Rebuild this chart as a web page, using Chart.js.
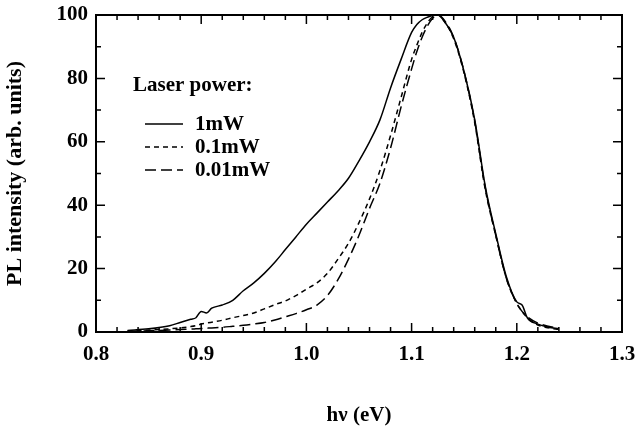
<!DOCTYPE html>
<html>
<head>
<meta charset="utf-8">
<script src="https://cdn.jsdelivr.net/npm/chart.js@4/dist/chart.umd.min.js"></script>
<style>
  html, body { margin: 0; padding: 0; background: #fff; }
  #wrap { width: 636px; height: 429px; }
</style>
</head>
<body>
<div id="wrap"><canvas id="plChart" width="636" height="429"></canvas></div>
<script>
// photon energy (eV), shared by the three spectra
const energy = [0.83, 0.85, 0.87, 0.88, 0.89, 0.895, 0.90, 0.905, 0.91, 0.92,
                0.93, 0.94, 0.95, 0.96, 0.97, 0.98, 0.99, 1.00, 1.01, 1.02,
                1.03, 1.04, 1.05, 1.06, 1.07, 1.08, 1.09, 1.10, 1.105, 1.11,
                1.115, 1.12, 1.125, 1.13, 1.14, 1.15, 1.16, 1.17, 1.18, 1.19,
                1.20, 1.205, 1.21, 1.22, 1.23, 1.24];

// PL intensity (arb. units) for each laser power
const pl1mW = [0.5, 1.0, 2.0, 3.0, 4.0, 4.5, 6.5, 6.0, 7.5, 8.5,
               10.0, 13.0, 15.5, 18.5, 22.0, 26.0, 30.0, 34.0, 37.5, 41.0,
               44.5, 48.5, 54.0, 60.0, 67.0, 77.0, 86.0, 94.5, 97.0, 98.5,
               99.3, 99.8, 100, 98.5, 93.0, 82.0, 67.0, 46.0, 31.0, 17.5,
               9.5, 8.5, 4.5, 2.5, 1.5, 1.0];
const pl01mW = [0.3, 0.6, 1.0, 1.3, 1.7, 2.0, 2.5, 2.8, 3.1, 3.7,
                4.5, 5.2, 6.0, 7.3, 8.6, 9.8, 11.5, 13.5, 15.5, 18.5,
                23.0, 28.0, 34.5, 42.0, 51.0, 62.0, 74.0, 86.0, 90.5, 94.5,
                97.5, 99.5, 100, 98.5, 92.5, 81.5, 66.0, 45.0, 30.5, 17.0,
                9.0, 6.5, 4.5, 2.2, 1.3, 0.8];
const pl001mW = [0.2, 0.4, 0.6, 0.8, 0.9, 1.0, 1.1, 1.2, 1.3, 1.5,
                 1.8, 2.1, 2.5, 3.0, 3.8, 4.8, 5.8, 7.0, 8.5, 11.5,
                 16.5, 23.0, 30.5, 39.0, 47.0, 58.0, 71.0, 83.0, 88.5, 93.0,
                 96.5, 99.0, 100, 98.8, 93.0, 82.0, 66.5, 45.5, 30.5, 17.0,
                 9.0, 6.5, 4.8, 2.8, 1.8, 1.2];

const seriesLabels = ['1mW', '0.1mW', '0.01mW'];
const xTicks = [0.8, 0.9, 1.0, 1.1, 1.2, 1.3];
const yTicks = [0, 20, 40, 60, 80, 100];

const FONT = 'Liberation Serif, Times New Roman, serif';

function toPoints(ys) {
    return ys.map((y, i) => ({ x: energy[i], y: y }));
}

// box around the plot with inward major/minor ticks on all four sides
const frameTicks = {
    id: 'frameTicks',
    afterDraw(chart) {
        const ctx = chart.ctx;
        const a = chart.chartArea;
        const xs = chart.scales.x;
        const ys = chart.scales.y;
        ctx.save();
        ctx.strokeStyle = '#000';
        ctx.lineWidth = 1.5;
        for (let i = 0; i <= 25; i++) {
            const px = xs.getPixelForValue(0.8 + i * 0.02);
            const len = i % 5 === 0 ? 9 : 5;
            ctx.beginPath();
            ctx.moveTo(px, a.bottom); ctx.lineTo(px, a.bottom - len);
            ctx.moveTo(px, a.top); ctx.lineTo(px, a.top + len);
            ctx.stroke();
        }
        for (let j = 0; j <= 10; j++) {
            const py = ys.getPixelForValue(j * 10);
            const len = j % 2 === 0 ? 9 : 5;
            ctx.beginPath();
            ctx.moveTo(a.left, py); ctx.lineTo(a.left + len, py);
            ctx.moveTo(a.right, py); ctx.lineTo(a.right - len, py);
            ctx.stroke();
        }
        ctx.lineWidth = 2;
        ctx.strokeRect(a.left, a.top, a.right - a.left, a.bottom - a.top);
        ctx.restore();
    }
};

// legend block inside the plot: heading plus one line sample per series
const laserLegend = {
    id: 'laserLegend',
    afterDraw(chart) {
        const ctx = chart.ctx;
        ctx.save();
        ctx.fillStyle = '#000';
        ctx.font = 'bold 21px ' + FONT;
        ctx.textBaseline = 'middle';
        ctx.textAlign = 'left';
        ctx.fillText('Laser power:', 133, 86);
        const rows = [124, 147, 170];
        chart.data.datasets.forEach((ds, k) => {
            ctx.strokeStyle = '#000';
            ctx.lineWidth = 1.5;
            ctx.setLineDash(ds.borderDash || []);
            ctx.beginPath();
            ctx.moveTo(145, rows[k]);
            ctx.lineTo(183, rows[k]);
            ctx.stroke();
            ctx.setLineDash([]);
            ctx.fillText(ds.label, 195, rows[k] + 1);
        });
        ctx.restore();
    }
};

const ctx = document.getElementById('plChart').getContext('2d');
const plChart = new Chart(ctx, {
    type: 'line',
    data: {
        datasets: [
            { label: seriesLabels[0], data: toPoints(pl1mW), borderDash: [] },
            { label: seriesLabels[1], data: toPoints(pl01mW), borderDash: [5, 4] },
            { label: seriesLabels[2], data: toPoints(pl001mW), borderDash: [11, 5] }
        ].map(ds => Object.assign(ds, {
            borderColor: '#000',
            borderWidth: 1.5,
            pointRadius: 0,
            fill: false,
            cubicInterpolationMode: 'monotone'
        }))
    },
    options: {
        responsive: false,
        animation: false,
        layout: { padding: { left: 0, top: 15, right: 14, bottom: 0 } },
        plugins: {
            legend: { display: false },
            tooltip: { enabled: false }
        },
        scales: {
            x: {
                type: 'linear',
                min: 0.8,
                max: 1.3,
                afterBuildTicks: axis => { axis.ticks = xTicks.map(v => ({ value: v })); },
                afterFit: axis => {
                    axis.height = 97;
                    axis.paddingLeft = 0;
                    axis.paddingRight = 0;
                },
                ticks: {
                    color: '#000',
                    padding: 10,
                    font: { family: FONT, size: 21, weight: 'bold' },
                    callback: v => v.toFixed(1)
                },
                grid: { display: false, drawTicks: false },
                border: { display: false },
                title: {
                    display: true,
                    text: 'hν (eV)',
                    color: '#000',
                    padding: { top: 0, bottom: 1 },
                    font: { family: FONT, size: 21, weight: 'bold' }
                }
            },
            y: {
                min: 0,
                max: 100,
                afterBuildTicks: axis => { axis.ticks = yTicks.map(v => ({ value: v })); },
                afterFit: axis => {
                    axis.width = 96;
                    axis.paddingTop = 0;
                    axis.paddingBottom = 0;
                },
                ticks: {
                    color: '#000',
                    padding: 8,
                    font: { family: FONT, size: 21, weight: 'bold' }
                },
                grid: { display: false, drawTicks: false },
                border: { display: false },
                title: {
                    display: true,
                    text: 'PL intensity (arb. units)',
                    color: '#000',
                    padding: { top: 2, bottom: 0 },
                    font: { family: FONT, size: 22, weight: 'bold' }
                }
            }
        }
    },
    plugins: [frameTicks, laserLegend]
});
</script>
</body>
</html>
